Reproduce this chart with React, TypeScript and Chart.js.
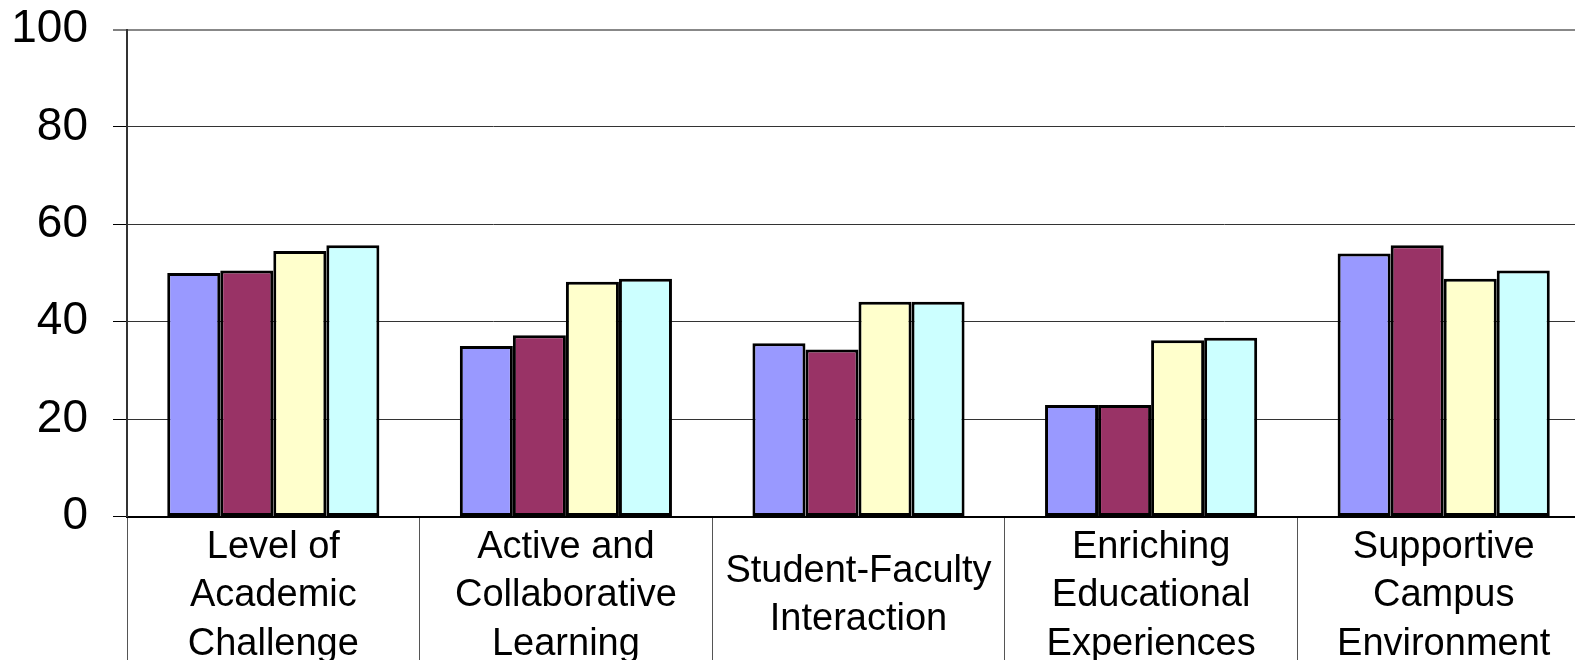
import React, { useEffect, useRef } from "react";
import { Chart, registerables } from "chart.js";

Chart.register(...registerables);

const categories: string[][] = [
  ["Level of", "Academic", "Challenge"],
  ["Active and", "Collaborative", "Learning"],
  ["Student-Faculty", "Interaction"],
  ["Enriching", "Educational", "Experiences"],
  ["Supportive", "Campus", "Environment"],
];

const series1: number[] = [50.0, 35.0, 35.6, 22.9, 54.0];
const series2: number[] = [50.5, 37.2, 34.3, 22.9, 55.7];
const series3: number[] = [54.5, 48.2, 44.1, 36.2, 48.8];
const series4: number[] = [55.7, 48.8, 44.1, 36.7, 50.5];

const yTicks: number[] = [0, 20, 40, 60, 80, 100];

const colors = ["#9999FF", "#993366", "#FFFFCC", "#CCFFFF"];
const FONT = "'Liberation Sans', Arial, Helvetica, sans-serif";

export default function App() {
  const ref = useRef<HTMLCanvasElement | null>(null);

  useEffect(() => {
    if (!ref.current) return;
    const all = [series1, series2, series3, series4];
    const chart = new Chart(ref.current, {
      type: "bar",
      data: {
        labels: categories,
        datasets: all.map((d, i) => ({
          label: "S" + (i + 1),
          data: d,
          backgroundColor: colors[i],
          borderColor: "#000",
          borderWidth: 3,
          borderSkipped: false,
          categoryPercentage: 0.725,
          barPercentage: 1,
        })),
      },
      options: {
        animation: false,
        responsive: false,
        devicePixelRatio: 1,
        layout: { padding: { top: 29.5, left: 0, right: 10, bottom: 0 } },
        plugins: {
          legend: { display: false },
          tooltip: { enabled: false },
          title: { display: false },
        },
        scales: {
          x: {
            offset: true,
            grid: {
              offset: true,
              drawOnChartArea: false,
              drawTicks: true,
              tickLength: 150,
              color: "#555",
              lineWidth: 1,
            },
            border: { color: "#000", width: 2 },
            ticks: {
              autoSkip: false,
              maxRotation: 0,
              minRotation: 0,
              crossAlign: "center",
              padding: -119,
              color: "#000",
              font: { family: FONT, size: 38, lineHeight: 1.27 },
            },
            afterFit: (scale: any) => {
              scale.height = 183.5;
              scale.paddingLeft = 0;
              scale.paddingRight = 0;
            },
          },
          y: {
            min: 0,
            max: 100,
            afterBuildTicks: (scale: any) => {
              scale.ticks = yTicks.map((v) => ({ value: v }));
            },
            grid: {
              color: (ctx: any) => (ctx.tick && ctx.tick.value === 100 ? "#888" : "#333"),
              lineWidth: (ctx: any) => (ctx.tick && ctx.tick.value === 100 ? 2 : 1),
              tickColor: "#000",
              tickWidth: 1,
              tickLength: 14,
              drawTicks: true,
            },
            border: { color: "#333", width: 2 },
            ticks: {
              padding: 25,
              color: "#000",
              font: { family: FONT, size: 46 },
            },
            afterFit: (scale: any) => {
              scale.width = 127;
              scale.paddingTop = 0;
              scale.paddingBottom = 0;
            },
          },
        },
      },
    });
    return () => chart.destroy();
  }, []);

  return (
    <div
      style={{
        position: "fixed",
        left: 0,
        top: 0,
        width: 1575,
        height: 660,
        overflow: "hidden",
        background: "#fff",
      }}
    >
      <canvas ref={ref} width={1600} height={700} style={{ display: "block", width: 1600, height: 700 }} />
    </div>
  );
}
